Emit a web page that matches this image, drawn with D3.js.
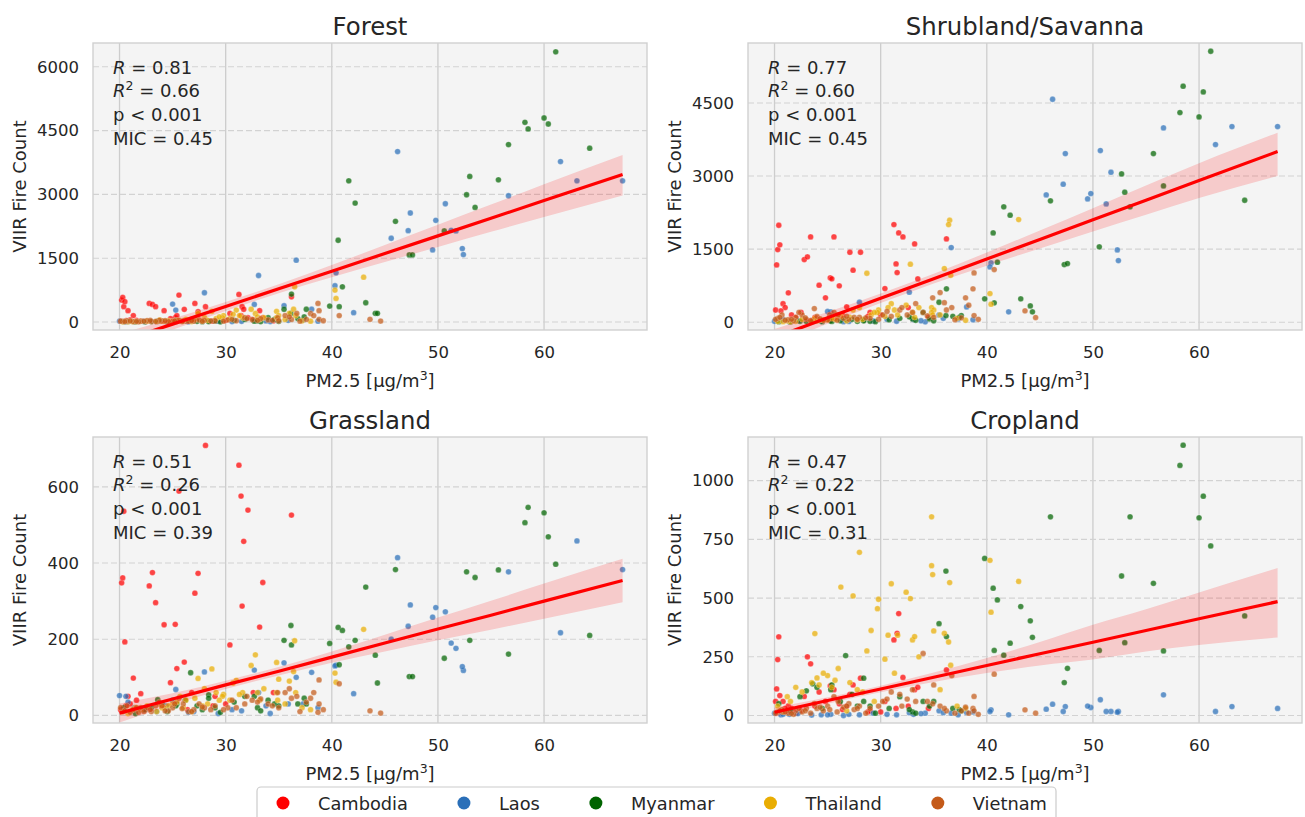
<!DOCTYPE html>
<html><head><meta charset="utf-8">
<script src="https://cdn.jsdelivr.net/npm/d3@7"></script>
<style>body{margin:0;background:#fff;} svg{display:block;font-family:"DejaVu Sans",sans-serif;}</style>
</head><body><svg id="c" width="1305" height="817"></svg>
<script>
// ---------------- DATA ----------------
const countries = ["Cambodia", "Laos", "Myanmar", "Thailand", "Vietnam"];
const countryColors = ["#ff0000", "#2a6fb8", "#006400", "#e9ad03", "#c45a19"];
const panelTitles = ["Forest", "Shrubland/Savanna", "Grassland", "Cropland"];
const xTicks = [20, 30, 40, 50, 60];
const forestTicks = [0, 1500, 3000, 4500, 6000];
const shrubTicks = [0, 1500, 3000, 4500];
const grassTicks = [0, 200, 400, 600];
const cropTicks = [0, 250, 500, 750, 1000];
const statR = ["0.81", "0.77", "0.51", "0.47"];
const statR2 = ["0.66", "0.60", "0.26", "0.22"];
const statP = ["p < 0.001", "p < 0.001", "p < 0.001", "p < 0.001"];
const statMIC = ["0.45", "0.45", "0.39", "0.31"];

// Cambodia
const cambodiaX = [20.2, 20.3, 20.4, 20.5, 20.8, 21.3, 21.0, 22.8, 23.1, 23.4, 24.2, 25.25, 25.6, 24.8, 26.1, 25.4, 27.1, 27.4, 28.1, 30.4, 31.25, 31.45, 31.55, 31.7, 32.1, 33.2, 33.5, 36.2, 20.6, 22.0, 29.0, 34.5, 26.8, 30.0, 20.1, 21.6, 22.5, 23.8, 26.4, 28.8, 32.6];
const cambodiaForest = [516, 578, 360, 477, 266, 150, 50, 438, 414, 360, 266, 100, 633, 80, 297, 150, 438, 242, 360, 200, 648, 150, 360, 300, 100, 266, 100, 594, 30, 20, 30, 30, 60, 40, 20, 40, 10, 30, 15, 20, 50];
const cambodiaShrub = [1176, 1491, 1990, 1587, 380, 602, 300, 1286, 1341, 1751, 759, 910, 1751, 500, 746, 890, 1436, 1067, 1436, 691, 2004, 1197, 1019, 1833, 1751, 1607, 889, 1710, 233, 100, 200, 100, 315, 150, 250, 150, 200, 100, 150, 120, 300];
const cambodiaGrass = [348, 361, 536, 193, 50, 98, 30, 340, 375, 296, 238, 239, 589, 86, 140, 123, 321, 373, 709, 185, 657, 576, 287, 457, 539, 232, 349, 526, 25, 57, 50, 60, 60, 30, 15, 40, 20, 30, 15, 25, 60];
const cambodiaCrop = [113, 238, 335, 85, 60, 41, 30, 81, 250, 220, 100, 126, 110, 60, 50, 118, 90, 130, 159, 60, 322, 30, 350, 434, 162, 110, 120, 194, 20, 10, 20, 30, 40, 15, 60, 30, 20, 40, 25, 15, 40];

// Laos
const laosX = [67.4, 63.1, 61.55, 56.65, 52.4, 52.3, 51.7, 51.25, 50.7, 49.8, 49.5, 47.4, 47.2, 46.2, 45.6, 42.06, 40.4, 40.3, 38.1, 37.3, 36.65, 35.5, 33.1, 32.7, 28.0, 25.3, 25.0, 20.0, 20.6, 20.8, 23.5, 26.5, 31.5, 34.2, 38.7, 21.4, 22.2, 24.4, 27.0, 29.3, 30.6, 33.8, 35.9];
const laosForest = [3320, 3320, 3773, 2969, 1586, 1727, 2141, 2156, 2781, 2391, 1695, 2563, 2148, 4008, 1969, 219, 1156, 852, 300, 47, 1453, 383, 1094, 414, 688, 281, 422, 23, 5, 10, 8, 5, 15, 10, 20, 5, 15, 10, 30, 20, 10, 25, 40];
const laosShrub = [4015, 4015, 3646, 3988, 1265, 1484, 3078, 2428, 3523, 2640, 2531, 3461, 2832, 4576, 2613, 212, 1217, 1135, 314, 68, 1532, 150, 55, 616, 410, 212, 220, 20, 40, 60, 15, 10, 20, 8, 50, 10, 30, 20, 15, 25, 60, 30, 80];
const laosGrass = [383, 458, 217, 377, 118, 128, 176, 190, 272, 283, 258, 290, 234, 414, 200, 57, 132, 130, 113, 30, 100, 138, 60, 119, 114, 68, 40, 52, 50, 35, 10, 8, 12, 5, 20, 20, 15, 25, 10, 5, 15, 25, 30];
const laosCrop = [30, 38, 17, 88, 17, 14, 17, 17, 67, 34, 40, 38, 17, 48, 27, 3, 24, 17, 13, 3, 10, 20, 5, 12, 3, 5, 3, 10, 3, 5, 2, 0, 3, 10, 15, 5, 8, 3, 5, 10, 5, 8, 12];

// Myanmar
const myanmarX = [61.1, 58.5, 58.2, 60.4, 60.0, 55.7, 56.65, 64.3, 52.7, 53.0, 53.5, 50.6, 46.0, 47.3, 47.6, 41.6, 42.2, 40.6, 41.0, 39.8, 40.7, 43.2, 44.1, 44.3, 36.2, 35.5, 36.15, 37.6, 37.4, 34.6, 33.0, 33.3, 32.7, 26.7, 23.6, 23.0, 25.4, 25.3, 28.4, 28.4, 24.5, 21.5, 29.5, 27.8, 35.0, 20.4, 22.4, 24.0, 26.2, 27.3, 29.0, 30.8, 31.8, 34.0, 36.8];
const myanmarForest = [6352, 4539, 4695, 4656, 4797, 3344, 4172, 4086, 2992, 3422, 2695, 2141, 2367, 1578, 1578, 3320, 2797, 1922, 828, 375, 360, 453, 203, 203, 656, 300, 200, 300, 120, 60, 30, 10, 20, 30, 20, 10, 15, 40, 20, 10, 5, 5, 5, 8, 15, 10, 5, 20, 30, 15, 25, 40, 60, 100, 80];
const myanmarShrub = [5561, 4843, 4302, 4726, 4213, 3461, 2797, 2503, 3044, 2668, 2367, 1546, 2490, 1183, 1204, 2367, 2196, 1833, 1231, 479, 397, 479, 335, 212, 684, 410, 137, 137, 100, 68, 68, 40, 110, 60, 30, 20, 15, 25, 40, 30, 10, 5, 10, 20, 30, 10, 20, 40, 30, 60, 20, 50, 80, 200, 120];
const myanmarGrass = [397, 546, 506, 469, 532, 382, 161, 210, 377, 197, 362, 150, 383, 102, 102, 180, 197, 231, 223, 189, 133, 337, 158, 85, 185, 197, 236, 30, 45, 30, 20, 12, 50, 112, 41, 20, 30, 25, 54, 45, 10, 5, 8, 15, 25, 20, 15, 30, 40, 25, 20, 35, 50, 40, 30];
const myanmarCrop = [722, 1151, 1065, 934, 842, 563, 275, 424, 594, 310, 846, 277, 846, 140, 201, 257, 308, 542, 492, 669, 277, 464, 403, 333, 336, 391, 615, 20, 25, 40, 15, 10, 25, 255, 135, 105, 130, 110, 159, 60, 30, 20, 10, 40, 60, 50, 80, 120, 60, 90, 40, 30, 80, 60, 30];

// Thailand
const thailandX = [43.0, 40.3, 40.4, 36.5, 36.4, 36.0, 36.6, 34.8, 35.0, 34.8, 34.9, 32.8, 32.4, 33.0, 33.2, 31.0, 30.7, 31.6, 29.8, 29.7, 30.4, 28.7, 28.0, 29.1, 27.4, 26.25, 23.8, 25.7, 25.0, 24.6, 24.0, 23.5, 22.0, 27.8, 21.5, 26.8, 38.0, 20.8, 20.3, 21.2, 22.6, 24.2, 25.4, 26.0, 27.1, 28.3, 29.4, 31.3, 33.6, 35.6, 37.2];
const thailandForest = [1055, 750, 555, 828, 300, 200, 150, 250, 150, 100, 80, 200, 300, 120, 60, 280, 180, 100, 150, 100, 80, 250, 100, 80, 200, 60, 50, 30, 20, 30, 20, 10, 15, 30, 10, 10, 20, 5, 5, 10, 20, 15, 40, 25, 60, 40, 120, 150, 100, 60, 30];
const thailandShrub = [2107, 588, 369, 2093, 2004, 1101, 964, 300, 250, 200, 150, 1190, 350, 200, 100, 380, 300, 150, 250, 200, 120, 1005, 300, 150, 250, 120, 80, 60, 50, 40, 30, 20, 20, 50, 10, 30, 40, 10, 20, 30, 60, 40, 80, 150, 100, 60, 200, 250, 300, 150, 80];
const thailandGrass = [226, 111, 87, 196, 115, 90, 60, 139, 95, 60, 40, 159, 131, 60, 40, 92, 85, 60, 55, 50, 40, 122, 70, 60, 97, 40, 30, 50, 30, 25, 20, 10, 15, 25, 20, 10, 15, 5, 10, 15, 25, 20, 35, 20, 45, 30, 40, 55, 70, 30, 20];
const thailandCrop = [571, 661, 440, 566, 313, 350, 214, 846, 360, 638, 600, 498, 525, 322, 336, 561, 342, 342, 495, 455, 240, 275, 695, 362, 509, 547, 349, 150, 170, 180, 160, 140, 120, 110, 60, 20, 30, 15, 40, 80, 100, 130, 120, 200, 140, 100, 60, 180, 250, 110, 40];

// Vietnam
const vietnamX = [44.6, 43.6, 38.8, 38.7, 38.8, 40.7, 38.0, 35.6, 34.9, 33.3, 34.0, 36.7, 32.5, 31.8, 30.2, 29.0, 28.0, 27.0, 26.0, 25.0, 24.0, 23.75, 23.0, 22.0, 21.3, 20.7, 20.3, 21.8, 22.6, 24.6, 25.6, 26.5, 27.5, 29.8, 31.0, 33.0, 35.0, 36.2, 37.0, 20.1, 20.5, 21.0, 21.6, 22.3, 22.9, 23.4, 24.3, 25.2, 25.9, 26.8, 27.8, 28.6, 30.6, 32.0, 34.4, 36.0, 37.6, 38.3, 39.2];
const vietnamForest = [23, 62, 266, 438, 62, 150, 200, 150, 100, 80, 50, 200, 60, 100, 50, 30, 40, 20, 30, 15, 25, 40, 10, 20, 10, 30, 15, 5, 30, 10, 40, 20, 50, 20, 30, 40, 30, 60, 20, 20, 10, 25, 15, 20, 35, 15, 30, 20, 10, 35, 15, 25, 60, 80, 40, 120, 60, 150, 30];
const vietnamShrub = [96, 233, 1012, 684, 137, 1081, 500, 609, 500, 383, 200, 300, 150, 250, 150, 80, 100, 60, 150, 50, 120, 280, 60, 100, 50, 150, 80, 30, 150, 40, 200, 80, 100, 60, 120, 200, 100, 250, 50, 60, 100, 40, 60, 200, 90, 30, 70, 150, 40, 120, 60, 90, 220, 300, 130, 400, 90, 350, 60];
const vietnamGrass = [6, 12, 93, 8, 30, 83, 45, 60, 60, 43, 30, 50, 40, 30, 20, 25, 20, 15, 30, 20, 25, 35, 10, 20, 15, 25, 10, 8, 20, 12, 45, 10, 30, 15, 20, 35, 20, 45, 10, 20, 12, 8, 20, 10, 15, 25, 12, 30, 18, 10, 22, 15, 40, 50, 25, 70, 35, 60, 15];
const vietnamCrop = [10, 24, 81, 30, 20, 176, 35, 40, 50, 60, 264, 170, 70, 90, 60, 30, 40, 50, 60, 40, 30, 50, 30, 20, 10, 25, 15, 5, 15, 20, 80, 35, 25, 40, 100, 110, 130, 20, 10, 10, 20, 15, 8, 30, 20, 10, 35, 25, 15, 40, 30, 10, 70, 40, 60, 30, 20, 10, 5];

// Regression fits with confidence band
const fitX = [20, 25, 30, 35, 40, 45, 50, 55, 60, 67.4];
const forestFit = [-465, -50, 365, 780, 1195, 1610, 2025, 2440, 2855, 3469];
const forestLo = [-655, -180, 260, 675, 1050, 1410, 1765, 2120, 2470, 2975];
const forestHi = [-275, 80, 470, 885, 1340, 1810, 2285, 2760, 3240, 3925];
const shrubFit = [-314, 89, 491, 894, 1296, 1699, 2101, 2504, 2906, 3502];
const shrubLo = [-489, -31, 393, 796, 1161, 1514, 1861, 2204, 2548, 3000];
const shrubHi = [-139, 209, 589, 992, 1431, 1884, 2341, 2804, 3264, 3890];
const grassFit = [6, 43, 80, 116, 153, 190, 227, 263, 300, 354];
const grassLo = [-19, 28, 69, 105, 138, 168, 197, 225, 254, 297];
const grassHi = [31, 58, 91, 127, 168, 212, 257, 301, 346, 411];
const cropFit = [14, 64, 113, 163, 213, 263, 312, 362, 412, 485];
const cropLo = [-6, 50, 99, 143, 181, 213, 238, 272, 300, 332];
const cropHi = [34, 78, 127, 183, 245, 313, 386, 452, 524, 628];

// ---------------- CHART ----------------
const countryX = [cambodiaX, laosX, myanmarX, thailandX, vietnamX];
const countryY = [
  [cambodiaForest, cambodiaShrub, cambodiaGrass, cambodiaCrop],
  [laosForest, laosShrub, laosGrass, laosCrop],
  [myanmarForest, myanmarShrub, myanmarGrass, myanmarCrop],
  [thailandForest, thailandShrub, thailandGrass, thailandCrop],
  [vietnamForest, vietnamShrub, vietnamGrass, vietnamCrop]
];
const fits = [[forestFit, forestLo, forestHi], [shrubFit, shrubLo, shrubHi], [grassFit, grassLo, grassHi], [cropFit, cropLo, cropHi]];
const yTickSets = [forestTicks, shrubTicks, grassTicks, cropTicks];

const layout = [
  {x0: 93, y0: 43, w: 554, h: 287, dom: [-188, 6560]},
  {x0: 748, y0: 43, w: 554, h: 287, dom: [-160, 5730]},
  {x0: 93, y0: 437, w: 554, h: 286, dom: [-20, 731]},
  {x0: 748, y0: 437, w: 554, h: 286, dom: [-32, 1186]}
];
const textColor = "#262626";
const svg = d3.select("#c");
svg.append("rect").attr("width", 1305).attr("height", 817).attr("fill", "#fff");

layout.forEach((L, p) => {
  const x = d3.scaleLinear().domain([17.5, 69.7]).range([L.x0, L.x0 + L.w]);
  const y = d3.scaleLinear().domain(L.dom).range([L.y0 + L.h, L.y0]);
  const g = svg.append("g");
  const clipId = "clip" + p;
  svg.append("clipPath").attr("id", clipId).append("rect")
    .attr("x", L.x0).attr("y", L.y0).attr("width", L.w).attr("height", L.h);

  g.append("rect").attr("x", L.x0).attr("y", L.y0).attr("width", L.w).attr("height", L.h).attr("fill", "#f4f4f4");

  // grid
  g.selectAll(".vg").data(xTicks).enter().append("line")
    .attr("x1", d => x(d)).attr("x2", d => x(d)).attr("y1", L.y0).attr("y2", L.y0 + L.h)
    .attr("stroke", "#cdcdcd").attr("stroke-width", 1.3);
  g.selectAll(".hg").data(yTickSets[p]).enter().append("line")
    .attr("x1", L.x0).attr("x2", L.x0 + L.w).attr("y1", d => y(d)).attr("y2", d => y(d))
    .attr("stroke", "#d2d2d2").attr("stroke-width", 1.1).attr("stroke-dasharray", "6,3");

  // points
  const pg = g.append("g").attr("clip-path", `url(#${clipId})`);
  countries.forEach((c, ci) => {
    const xs = countryX[ci], ys = countryY[ci][p];
    pg.selectAll(null).data(xs.map((v, i) => [v, ys[i]])).enter().append("circle")
      .attr("cx", d => x(d[0])).attr("cy", d => y(d[1])).attr("r", 2.9)
      .attr("fill", countryColors[ci]).attr("fill-opacity", 0.72)
      .attr("stroke", "#fff").attr("stroke-width", 0.4).attr("stroke-opacity", 0.6);
  });

  // band + line
  const [fy, lo, hi] = fits[p];
  const area = d3.area().x((d, i) => x(fitX[i])).y0((d, i) => y(lo[i])).y1((d, i) => y(hi[i])).curve(d3.curveMonotoneX);
  pg.append("path").datum(fitX).attr("d", area).attr("fill", "#ff0000").attr("fill-opacity", 0.17);
  const line = d3.line().x((d, i) => x(fitX[i])).y((d, i) => y(fy[i]));
  pg.append("path").datum(fitX).attr("d", line).attr("fill", "none").attr("stroke", "#ff0000").attr("stroke-width", 3.2);

  // border
  g.append("rect").attr("x", L.x0).attr("y", L.y0).attr("width", L.w).attr("height", L.h)
    .attr("fill", "none").attr("stroke", "#d0d0d0").attr("stroke-width", 1.4);

  // axes
  const xa = g.append("g").attr("transform", `translate(0,${L.y0 + L.h})`)
    .call(d3.axisBottom(x).tickValues(xTicks).tickSize(0).tickPadding(16));
  xa.select(".domain").remove();
  xa.selectAll("text").attr("font-size", "16.5px").attr("fill", textColor).attr("font-family", "DejaVu Sans");
  const ya = g.append("g").attr("transform", `translate(${L.x0},0)`)
    .call(d3.axisLeft(y).tickValues(yTickSets[p]).tickFormat(d3.format("d")).tickSize(0).tickPadding(14));
  ya.select(".domain").remove();
  ya.selectAll("text").attr("font-size", "16.5px").attr("fill", textColor).attr("font-family", "DejaVu Sans");

  // title
  g.append("text").attr("x", L.x0 + L.w / 2).attr("y", L.y0 - 8).attr("text-anchor", "middle")
    .attr("font-size", "24.4px").attr("fill", textColor).text(panelTitles[p]);

  // x label
  const xl = g.append("text").attr("x", L.x0 + L.w / 2).attr("y", L.y0 + L.h + 57).attr("text-anchor", "middle")
    .attr("font-size", "18px").attr("fill", textColor);
  xl.append("tspan").text("PM2.5 [μg/m");
  xl.append("tspan").attr("dy", -7).attr("font-size", "12.5px").text("3");
  xl.append("tspan").attr("dy", 7).text("]");

  // y label
  g.append("text").attr("transform", `translate(${L.x0 - 74},${L.y0 + L.h / 2}) rotate(-90)`)
    .attr("text-anchor", "middle").attr("dominant-baseline", "central")
    .attr("font-size", "18px").attr("fill", textColor).text("VIIR Fire Count");

  // stats
  const tx = L.x0 + 20;
  const t1 = g.append("text").attr("x", tx).attr("y", L.y0 + 30.5).attr("font-size", "18px").attr("fill", textColor);
  t1.append("tspan").attr("font-style", "italic").text("R");
  t1.append("tspan").text(" = " + statR[p]);
  const t2 = g.append("text").attr("x", tx).attr("y", L.y0 + 54).attr("font-size", "18px").attr("fill", textColor);
  t2.append("tspan").attr("font-style", "italic").text("R");
  t2.append("tspan").attr("dy", -7).attr("font-size", "12.5px").text("2");
  t2.append("tspan").attr("dy", 7).text(" = " + statR2[p]);
  g.append("text").attr("x", tx).attr("y", L.y0 + 78).attr("font-size", "18px").attr("fill", textColor).text(statP[p]);
  g.append("text").attr("x", tx).attr("y", L.y0 + 101.5).attr("font-size", "18px").attr("fill", textColor).text("MIC = " + statMIC[p]);
});

// legend
const lg = svg.append("g");
lg.append("rect").attr("x", 257).attr("y", 787).attr("width", 799).attr("height", 50).attr("rx", 4)
  .attr("fill", "#fff").attr("stroke", "#cccccc").attr("stroke-width", 1.2);
let cur = 283;
countries.forEach((c, i) => {
  lg.append("circle").attr("cx", cur).attr("cy", 803).attr("r", 6.5).attr("fill", countryColors[i]);
  const t = lg.append("text").attr("x", cur + 35).attr("y", 809.5).attr("font-size", "17.8px")
    .attr("fill", textColor).text(c);
  cur = cur + 35 + t.node().getComputedTextLength() + 56;
});
</script></body></html>
